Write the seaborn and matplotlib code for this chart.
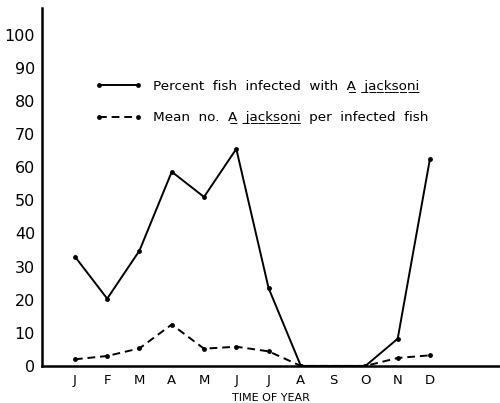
import numpy as np
import pandas as pd
import matplotlib
matplotlib.use("Agg")
import matplotlib.pyplot as plt
import seaborn as sns

months = ["J", "F", "M", "A", "M", "J", "J", "A", "S", "O", "N", "D"]
percent_infected = [33, 20.3, 34.8, 58.6, 51, 65.5, 23.5, 0, np.nan, 0, 8.2, 62.5]
mean_per_fish = [2.0, 3.0, 5.3, 12.5, 5.2, 5.8, 4.4, 0, np.nan, 0, 2.4, 3.2]
y_ticks = [0, 10, 20, 30, 40, 50, 60, 70, 80, 90, 100]

U = "\u0332"
def ul(s):
    return "".join(c + U for c in s)

label1 = "Percent  fish  infected  with  " + ul("A") + "  " + ul("jacksoni")
label2 = "Mean  no.  " + ul("A") + "  " + ul("jacksoni") + "  per  infected  fish"

sns.set_theme(style="white")
plt.rcParams["font.family"] = ["DejaVu Sans"]
plt.rcParams["text.color"] = "black"
plt.rcParams["axes.labelcolor"] = "black"
plt.rcParams["xtick.color"] = "black"
plt.rcParams["ytick.color"] = "black"

df = pd.DataFrame({"x": np.arange(len(months)),
                   "pct": percent_infected,
                   "mean": mean_per_fish})

fig = plt.figure(figsize=(5.0, 4.03), dpi=100)
ax = fig.add_axes([0.084, 0.092, 0.916, 0.888])

sns.lineplot(data=df, x="x", y="pct", ax=ax, color="black", linewidth=1.4,
             marker="o", markersize=3.5, markeredgewidth=0, label=label1)
sns.lineplot(data=df, x="x", y="mean", ax=ax, color="black", linewidth=1.4,
             linestyle=(0, (4, 2.5)), marker="o", markersize=3.5,
             markeredgewidth=0, label=label2)

ax.set_xlim(-1.02, 13.17)
ax.set_ylim(0, 108)
ax.set_xticks(np.arange(len(months)))
ax.set_xticklabels(months, fontsize=9.5)
ax.set_yticks(y_ticks)
ax.set_yticklabels([str(v) for v in y_ticks], fontsize=11.5)
ax.tick_params(axis="x", direction="in", length=5, width=1.2, pad=6)
ax.tick_params(axis="y", direction="in", length=5, width=1.2, pad=5)
ax.set_xlabel("TIME OF YEAR", fontsize=8, labelpad=4)
ax.set_ylabel("")
for s in ["top", "right"]:
    ax.spines[s].set_visible(False)
for s in ["left", "bottom"]:
    ax.spines[s].set_linewidth(1.8)
    ax.spines[s].set_color("black")

leg = ax.legend(loc="upper left", bbox_to_anchor=(0.116, 0.80), frameon=False,
                fontsize=9.7, handlelength=3.45, handletextpad=0.86,
                labelspacing=1.4, numpoints=2, borderaxespad=0, borderpad=0)

fig.savefig("out.png", dpi=100)
